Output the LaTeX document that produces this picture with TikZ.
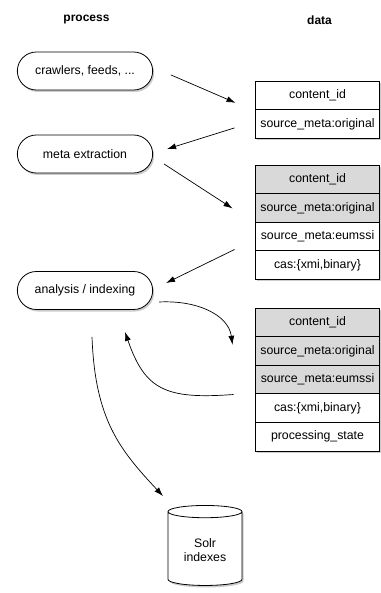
\documentclass[tikz,border=0pt]{standalone}
\usepackage{fontspec}
\setmainfont{Liberation Sans}
\usetikzlibrary{arrows.meta,shapes.misc,shapes.geometric,shadows}

\begin{document}
\begin{tikzpicture}[x=1pt,y=-1pt,
	font=\fontsize{12.3}{14}\selectfont,
	>={Latex[length=9pt,width=6pt]},
	boxshadow/.style={drop shadow={shadow xshift=1.5pt,shadow yshift=-2pt,opacity=0.4}},
	head/.style={font=\fontsize{12}{14}\selectfont\bfseries},
	proc/.style={rounded rectangle,draw,line width=0.8pt,fill=white,minimum width=142pt,minimum height=38pt,boxshadow},
	field/.style={rectangle,draw,line width=0.8pt,fill=white,minimum width=124pt,minimum height=28.6pt,inner sep=0pt,outer sep=0pt,boxshadow},
	used/.style={field,fill=black!15},
	store/.style={cylinder,shape border rotate=90,aspect=0.25,draw,line width=0.8pt,fill=white,minimum width=74pt,minimum height=80pt,align=center,boxshadow},
	link/.style={->,line width=0.7pt}]
	\useasboundingbox (0,0) rectangle (380,593);
	%
	\node[head] (h1) at (86.5,20) {process};
	\node[head] (h2) at (319.5,20) {data};
	%
	\node[proc] (p1) at (85,71) {crawlers, feeds, ...};
	\node[proc] (p2) at (85,154) {meta extraction};
	\node[proc] (p3) at (85,290.5) {analysis / indexing};
	%
	\node[field] (a1) at (317.5,95.3) {content\_id};
	\node[field] (a2) at (317.5,123.9) {source\_meta:original};
	%
	\node[used] (b1) at (317.5,179.3) {content\_id};
	\node[used] (b2) at (317.5,207.9) {source\_meta:original};
	\node[field] (b3) at (317.5,236.5) {source\_meta:eumssi};
	\node[field] (b4) at (317.5,265.1) {cas:\{xmi,binary\}};
	%
	\node[used] (c1) at (317.5,322.3) {content\_id};
	\node[used] (c2) at (317.5,350.9) {source\_meta:original};
	\node[used] (c3) at (317.5,379.5) {source\_meta:eumssi};
	\node[field] (c4) at (317.5,408.1) {cas:\{xmi,binary\}};
	\node[field] (c5) at (317.5,436.7) {processing\_state};
	%
	\node[store] (s) at (205,550) {Solr\\indexes};
	%
	\draw [link] ([shift={(18,4)}]p1.east) to ([shift={(-20,7.5)}]a1.west);
	\draw [link] ([shift={(-21,4)}]a2.west) to ([shift={(14,-5)}]p2.east);
	\draw [link] ([shift={(11,10)}]p2.east) to ([shift={(-23,0.5)}]b2.west);
	\draw [link] ([shift={(-21,13)}]b3.west) to ([shift={(13,-7.5)}]p3.east);
	\draw [link] ([shift={(6,11.5)}]p3.east) .. controls +(38,-2) and +(-4,-30) .. ([shift={(-23,22.5)}]c1.west);
	\draw [link] ([shift={(-22,15)}]c3.west) .. controls +(-68,5) and +(20,58) .. ([shift={(40,22)}]p3.south);
	\draw [link] ([shift={(7,27)}]p3.south) .. controls +(3,83) and +(-43,-46) .. ([shift={(-42,-9)}]s.north);
\end{tikzpicture}
\end{document}
